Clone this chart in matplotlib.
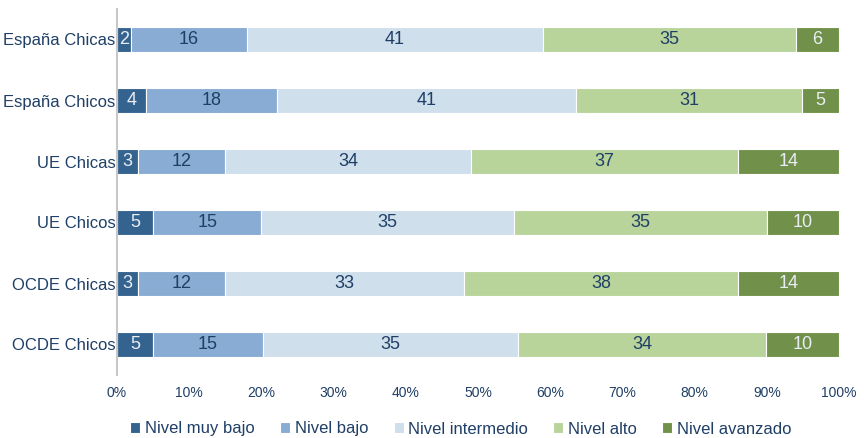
import matplotlib
matplotlib.use("Agg")
import matplotlib.pyplot as plt
import numpy as np

categories = ["España Chicas", "España Chicos", "UE Chicas", "UE Chicos", "OCDE Chicas", "OCDE Chicos"]
series_names = ["Nivel muy bajo", "Nivel bajo", "Nivel intermedio", "Nivel alto", "Nivel avanzado"]
muy_bajo   = [1.9, 4.0, 2.95, 5.0, 2.95, 5.0]
bajo       = [16.1, 18.2, 12.0, 15.0, 12.0, 15.2]
intermedio = [41.0, 41.4, 34.05, 35.0, 33.1, 35.4]
alto       = [35.0, 31.3, 37.0, 35.0, 37.95, 34.4]
avanzado   = [6.0, 5.1, 14.0, 10.0, 14.0, 10.05]
xticklabels = ["0%", "10%", "20%", "30%", "40%", "50%", "60%", "70%", "80%", "90%", "100%"]

colors = ["#35638F", "#88ACD3", "#D0DFEC", "#B8D49B", "#71914A"]
label_colors = ["#E9EEF4", "#1F3F66", "#1F3F66", "#1F3F66", "#E9EEF4"]
text_color = "#1F3F66"

plt.rcParams['font.family'] = ['Liberation Sans', 'DejaVu Sans']

fig = plt.figure(figsize=(8.64, 4.38), dpi=100)
ax = fig.add_axes([117/864, 1 - 375/438, 722/864, 366/438])

raw = np.array([muy_bajo, bajo, intermedio, alto, avanzado])
data = raw / raw.sum(axis=0) * 100
y = np.arange(len(categories))
left = np.zeros(len(categories))
for i, name in enumerate(series_names):
    bars = ax.barh(y, data[i], left=left, height=0.4, color=colors[i],
                   edgecolor="white", linewidth=0.8, label=name)
    labels = ["%.0f" % v for v in raw[i]]
    ax.bar_label(bars, labels=labels, label_type="center", color=label_colors[i], fontsize=13)
    left += data[i]

ax.set_xlim(0, 100)
ax.set_ylim(len(categories) - 0.5, -0.5)
ax.set_yticks(y)
ax.set_yticklabels(categories, fontsize=12, color=text_color)
ax.set_xticks(np.arange(0, 101, 10))
ax.set_xticklabels(xticklabels, fontsize=10, color=text_color)
ax.tick_params(axis="y", length=0, pad=1)
ax.tick_params(axis="x", length=0, pad=8)
for s in ["top", "right", "bottom"]:
    ax.spines[s].set_visible(False)
ax.spines["left"].set_color("#C8C8C8")
ax.spines["left"].set_linewidth(1.5)

leg = fig.legend(loc="center", bbox_to_anchor=(461/864, 1 - 429/438), ncol=5, frameon=False,
                 fontsize=12, handlelength=0.6, handleheight=0.6, handletextpad=0.3,
                 columnspacing=1.5)
for t in leg.get_texts():
    t.set_color(text_color)

fig.savefig("out.png", dpi=100)
